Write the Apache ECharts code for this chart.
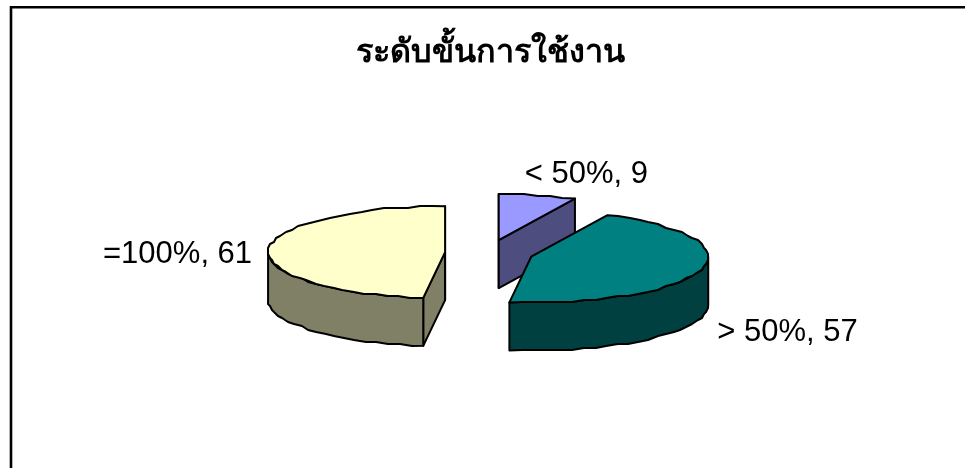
<!DOCTYPE html>
<html>
<head>
<meta charset="utf-8">
<style>
  html, body { margin: 0; padding: 0; background: #fff; }
  #chart { width: 965px; height: 468px; }
</style>
<script src="https://cdn.jsdelivr.net/npm/echarts@6/dist/echarts.min.js"></script>
</head>
<body>
<div id="chart"></div>
<script>
// Usage level breakdown
const chartTitle = 'ระดับขั้นการใช้งาน';
const categories = ['< 50%', '> 50%', '=100%'];
const values = [9, 57, 61];

// Per-slice colours: top face and side wall
const topColors = ['#9999FF', '#008080', '#FFFFCC'];
const wallColors = ['#4D4D80', '#004040', '#808066'];
// Label anchor: offset from the exploded slice centre, and text alignment
const labelPlaces = [
  { x: 26, y: -66, align: 'left' },
  { x: 186, y: 76, align: 'left' },
  { x: -193, y: 2, align: 'right' }
];

// Projection of the tilted pie
const pie = { cx: 489, cy: 253, rx: 177, ry: 46, depth: 48, explodeX: 44, explodeY: 13.3, grid: 2 };

const total = values.reduce((a, b) => a + b, 0);
const ranges = [];
values.reduce((start, v) => {
  const end = start + v / total * 2 * Math.PI;
  ranges.push([start, end]);
  return end;
}, 0);

const onEllipse = (c, a) => [c[0] + pie.rx * Math.sin(a), c[1] - pie.ry * Math.cos(a)];
const snap = p => [Math.round(p[0] / pie.grid) * pie.grid, Math.round(p[1] / pie.grid) * pie.grid];
// Arc outline as a coarse polyline: exact end points, grid-snapped in between
function arc(c, from, to) {
  const steps = Math.max(2, Math.round((to - from) / 0.07));
  const pts = [];
  for (let i = 0; i <= steps; i++) {
    const p = onEllipse(c, from + (to - from) * i / steps);
    pts.push(i === 0 || i === steps ? p : snap(p));
  }
  return pts;
}
const shift = (pts, dy) => pts.map(p => [p[0], p[1] + dy]);
const line = { stroke: '#000', lineWidth: 2, lineJoin: 'round' };
const polygon = (points, fill, z2) => ({
  type: 'polygon', z2, shape: { points }, style: Object.assign({ fill }, line)
});

function renderSlice(params, api) {
  const i = params.dataIndex;
  const [a0, a1] = ranges[i];
  const mid = (a0 + a1) / 2;
  const c = [
    pie.cx + pie.explodeX * Math.sin(mid),
    pie.cy - pie.explodeY * Math.cos(mid)
  ];
  const d = pie.depth;
  const kids = [];
  // Inner radial walls that face the viewer
  [a0, a1].forEach(a => {
    const facing = a === a1 ? (a % (2 * Math.PI)) < Math.PI : (a % (2 * Math.PI)) > Math.PI;
    if (facing || a === 0) {
      const e = onEllipse(c, a);
      kids.push(polygon([c, e, [e[0], e[1] + d], [c[0], c[1] + d]], wallColors[i], 1));
    }
  });
  // Outer rim: only the front half of the ellipse is visible
  const rimFrom = Math.max(a0, Math.PI / 2);
  const rimTo = Math.min(a1, Math.PI * 1.5);
  if (rimTo > rimFrom) {
    const rim = arc(c, rimFrom, rimTo);
    kids.push(polygon(rim.concat(shift(rim, d).reverse()), wallColors[i], 2));
  }
  // Top face
  kids.push(polygon([c].concat(arc(c, a0, a1)), topColors[i], 3));
  // Category and value label
  const place = labelPlaces[i];
  kids.push({
    type: 'text', z2: 4,
    style: {
      x: c[0] + place.x, y: c[1] + place.y,
      text: categories[i] + ', ' + api.value(0),
      font: '31px "Liberation Sans", Arial, sans-serif',
      fill: '#000', align: place.align, verticalAlign: 'middle'
    }
  });
  return { type: 'group', children: kids };
}

const chart = echarts.init(document.getElementById('chart'), null, { renderer: 'canvas' });
chart.setOption({
  animation: false,
  backgroundColor: '#fff',
  title: {
    text: chartTitle, left: 356, top: 37, padding: 0,
    textStyle: { fontFamily: '"Liberation Sans", Arial, sans-serif', fontWeight: 'bold', fontSize: 32.4, color: '#000' }
  },
  graphic: [{
    type: 'polyline', silent: true,
    shape: { points: [[11, 468], [11, 7.3], [965, 7.3]] },
    style: { fill: null, stroke: '#000', lineWidth: 2.6 }
  }],
  xAxis: { show: false, min: 0, max: 1 },
  yAxis: { show: false, min: 0, max: 1 },
  grid: { left: 0, right: 0, top: 0, bottom: 0 },
  series: [{
    type: 'custom',
    coordinateSystem: 'none',
    renderItem: renderSlice,
    data: values.map(v => [v]),
    silent: true
  }]
});
</script>
</body>
</html>
